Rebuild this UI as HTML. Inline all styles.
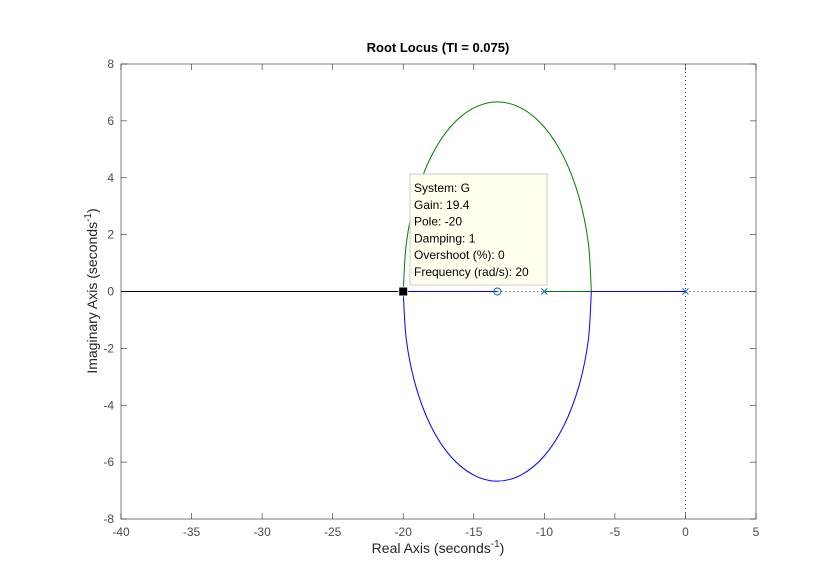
<!DOCTYPE html>
<html><head><meta charset="utf-8"><style>
body{margin:0;background:#fff;font-family:"Liberation Sans",sans-serif}
</style></head><body>
<svg id="c" width="836" height="583" xmlns="http://www.w3.org/2000/svg" font-family="Liberation Sans, sans-serif">
<rect width="836" height="583" fill="#fff"/>
<g id="g"></g>
</svg>
<script>
const xTicks=[-40,-35,-30,-25,-20,-15,-10,-5,0,5];
const yTicks=[-8,-6,-4,-2,0,2,4,6,8];
const upperRe=[-20,-19.77,-19.11,-18.05,-16.67,-15.06,-13.33,-11.61,-10.0,-8.62,-7.55,-6.89,-6.67];
const upperIm=[0,1.73,3.33,4.72,5.78,6.44,6.67,6.44,5.78,4.72,3.33,1.73,0];
const poles=[-10,0];
const zeros=[-13.33];
const selected=[-20,0];
const tipLines=["System: G","Gain: 19.4","Pole: -20","Damping: 1","Overshoot (%): 0","Frequency (rad/s): 20"];
const L=121,R=756,T=64,B=519;
const X=v=>L+(v+40)/45*(R-L), Y=v=>T+(8-v)/16*(B-T);
const g=document.getElementById('g'),NS="http://www.w3.org/2000/svg";
function el(t,a,txt){const e=document.createElementNS(NS,t);for(const k in a)e.setAttribute(k,a[k]);if(txt!=null)e.textContent=txt;g.appendChild(e);return e;}
function smooth(pts){let d=`M${pts[0][0]},${pts[0][1]}`;for(let i=0;i<pts.length-1;i++){const p0=pts[Math.max(0,i-1)],p1=pts[i],p2=pts[i+1],p3=pts[Math.min(pts.length-1,i+2)];
 const c1=[p1[0]+(p2[0]-p0[0])/6,p1[1]+(p2[1]-p0[1])/6],c2=[p2[0]-(p3[0]-p1[0])/6,p2[1]-(p3[1]-p1[1])/6];d+=`C${c1[0]},${c1[1]} ${c2[0]},${c2[1]} ${p2[0]},${p2[1]}`;}return d;}
const tc='#4d4d4d';
let e=el('rect',{x:L,y:T,width:R-L,height:B-T,fill:'#fff',stroke:'#262626','stroke-width':0.6});

xTicks.forEach(v=>{const x=X(v);el('line',{x1:x,x2:x,y1:B,y2:B-6,stroke:'#262626','stroke-width':0.6});el('line',{x1:x,x2:x,y1:T,y2:T+6,stroke:'#262626','stroke-width':0.6});
 const t=el('text',{x:x,y:B+17,'text-anchor':'middle','font-size':12,fill:tc},v);});
yTicks.forEach(v=>{const y=Y(v);el('line',{x1:L,x2:L+6,y1:y,y2:y,stroke:'#262626','stroke-width':0.6});el('line',{x1:R,x2:R-6,y1:y,y2:y,stroke:'#262626','stroke-width':0.6});
 const t=el('text',{x:L-7,y:y+4,'text-anchor':'end','font-size':12,fill:tc},v);});
el('line',{x1:X(0),x2:X(0),y1:T,y2:B,stroke:'#333','stroke-width':1,'stroke-dasharray':'1,3'});
el('line',{x1:X(0),x2:R,y1:Y(0),y2:Y(0),stroke:'#333','stroke-width':1,'stroke-dasharray':'1,3'});
el('line',{x1:L,x2:X(-20),y1:Y(0),y2:Y(0),stroke:'#000','stroke-width':1});
el('line',{x1:X(-20),x2:X(zeros[0]),y1:Y(0),y2:Y(0),stroke:'#0000ff','stroke-width':1});
el('line',{x1:X(zeros[0]),x2:X(poles[0]),y1:Y(0),y2:Y(0),stroke:'#333','stroke-width':1,'stroke-dasharray':'1,3'});
el('line',{x1:X(poles[0]),x2:X(-6.67),y1:Y(0),y2:Y(0),stroke:'#008000','stroke-width':1});
el('line',{x1:X(-6.67),x2:X(poles[1]),y1:Y(0),y2:Y(0),stroke:'#0000ff','stroke-width':1});
const up=upperRe.map((r,i)=>[X(r),Y(upperIm[i])]);
const lo=upperRe.map((r,i)=>[X(r),Y(-upperIm[i])]);
e=el('path',{d:smooth(up),fill:'none',stroke:'#008000','stroke-width':1});
e=el('path',{d:smooth(lo),fill:'none',stroke:'#0000ff','stroke-width':1});
poles.forEach(p=>{const x=X(p),y=Y(0);e=el('path',{d:`M${x-3},${y-3}L${x+3},${y+3}M${x-3},${y+3}L${x+3},${y-3}`,stroke:'#0072bd','stroke-width':1});});
zeros.forEach(z=>{e=el('circle',{cx:X(z),cy:Y(0),r:3.5,fill:'none',stroke:'#0072bd','stroke-width':1});});
e=el('rect',{x:410,y:174,width:137,height:111,fill:'#ffffee',stroke:'#ccc','stroke-width':1});
tipLines.forEach((s,i)=>{const t=el('text',{x:414,y:192+i*16.8,'font-size':12,fill:'#000'},s);});
e=el('rect',{x:X(selected[0])-4.5,y:Y(selected[1])-4.5,width:9,height:9,fill:'#000',stroke:'#ffffee','stroke-width':1});
e=el('text',{x:438,y:52,'text-anchor':'middle','font-size':13,'font-weight':'bold',fill:'#000'},'Root Locus (TI = 0.075)');
e=el('text',{x:438,y:553,'text-anchor':'middle','font-size':14,fill:'#262626'});e.innerHTML='Real Axis (seconds<tspan dy="-6" font-size="10">-1</tspan><tspan dy="6">)</tspan>';
e=el('text',{x:0,y:0,'text-anchor':'middle','font-size':14,fill:'#262626',transform:'translate(97,291) rotate(-90)'});e.innerHTML='Imaginary Axis (seconds<tspan dy="-6" font-size="10">-1</tspan><tspan dy="6">)</tspan>';
</script>
</body></html>
